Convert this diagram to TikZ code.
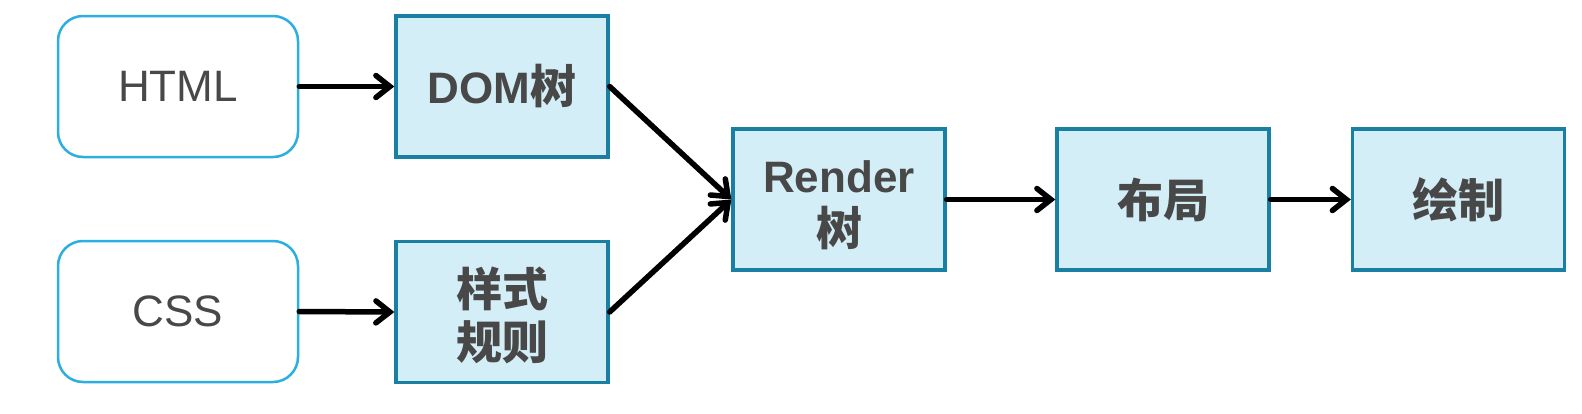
\documentclass[tikz,border=0pt]{standalone}
\usepackage{fontspec}
\setmainfont{Liberation Sans}
\newfontfamily\cjk{Noto Sans CJK SC}
\usetikzlibrary{arrows.meta}
\definecolor{boxfill}{HTML}{D4EEF7}
\definecolor{boxdraw}{HTML}{1A80A3}
\definecolor{srcdraw}{HTML}{2BAEE0}
\definecolor{txt}{HTML}{484848}
\newcommand{\zh}[1]{{\cjk\fontsize{46}{53}\selectfont #1}}
\begin{document}
\begin{tikzpicture}[x=1pt,y=-1pt,
  srcbox/.style={draw=srcdraw,line width=2.5pt,fill=white,rounded corners=25pt,minimum width=240pt,minimum height=141pt,inner sep=0pt,text=txt,font=\fontsize{44}{53}\selectfont,align=center},
  stepbox/.style={draw=boxdraw,line width=3.3pt,fill=boxfill,minimum width=212pt,minimum height=141pt,inner sep=0pt,text=txt,font=\fontsize{44}{53}\selectfont\bfseries,align=center},
  conn/.style={line width=5.5pt,line cap=round,-{Straight Barb[length=14pt,width=22pt,line width=5.5pt,line cap=round]}}]
\useasboundingbox (0,0) rectangle (1582,413);
\node[srcbox] (html) at (178,86.5) {HTML};
\node[srcbox] (css) at (178,311.5) {CSS};
\node[stepbox] (dom) at (502,86.5) {DOM\zh{树}};
\node[stepbox] (style) at (502,312) {\rule{0pt}{46pt}\zh{样式}\\\zh{规则}};
\node[stepbox] (render) at (839,199.5) {\rule{0pt}{44pt}Render\\\zh{树}};
\node[stepbox] (layout) at (1163,199.5) {\zh{布局}};
\node[stepbox] (paint) at (1458.5,199.5) {\zh{绘制}};
\draw[conn] (html.east) -- (dom.west);
\draw[conn] (css.east) -- (style.west);
\draw[conn] (dom.east) -- (render.west);
\draw[conn] (style.east) -- (render.west);
\draw[conn] (render.east) -- (layout.west);
\draw[conn] (layout.east) -- (paint.west);
\end{tikzpicture}
\end{document}
